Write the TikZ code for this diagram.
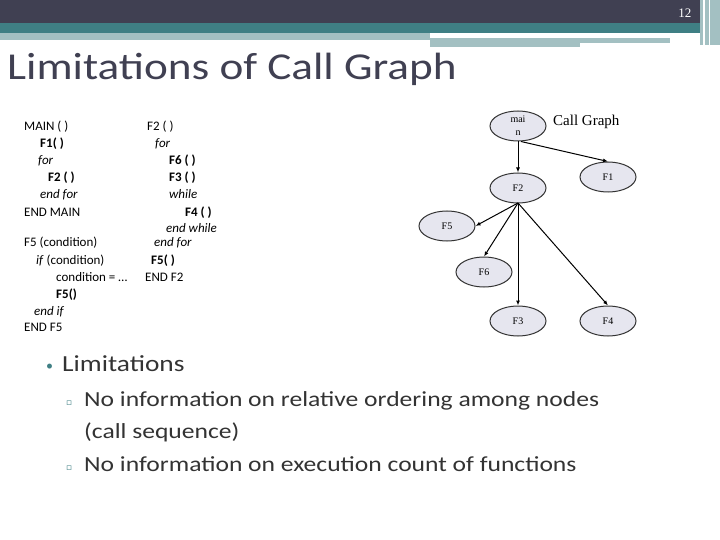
\documentclass[tikz,border=0pt]{standalone}
\usepackage{fontspec}
\setmainfont{Carlito}
\newfontfamily\wide[FakeStretch=1.19]{Carlito}
\newfontfamily\serifb{Liberation Serif}
\newfontfamily\dvs{DejaVu Sans}
\usetikzlibrary{shapes.geometric,arrows.meta}
\definecolor{hdr}{HTML}{404052}
\definecolor{teal1}{HTML}{3F7F84}
\definecolor{teal2}{HTML}{A3C0C2}
\definecolor{txt}{HTML}{333333}
\definecolor{ellf}{HTML}{E6E6EF}
\begin{document}
\begin{tikzpicture}[x=1pt,y=-1pt,
  gnode/.style={ellipse,draw=black!80,line width=1pt,fill=ellf,minimum width=56pt,minimum height=30pt,inner sep=0pt,font=\serifb\fontsize{10}{10}\selectfont},
  conn/.style={line width=1pt,-{Latex[length=5pt,width=4pt]}},
  code/.style={anchor=base west,inner sep=0pt,font=\fontsize{13}{13}\selectfont,text=black}]
\useasboundingbox (0,0) rectangle (720,540);
\fill[hdr] (0,0) rectangle (720,23);
\fill[teal1] (0,23) rectangle (700,33);
\fill[teal2] (0,33) rectangle (430,40);
\fill[teal2] (430,38) rectangle (670,43);
\fill[teal2] (430,43) rectangle (580,47);
\fill[teal2] (700,0) rectangle (720,45);
\fill[white] (703,0) rectangle (705,45);
\fill[white] (709,0) rectangle (710,45);
\node[anchor=base east,text=white,font=\serifb\fontsize{13}{13}\selectfont] (pg) at (695,18) {12};
\node[anchor=base west,inner sep=0pt,text=hdr,font=\wide\fontsize{38}{38}\selectfont] (title) at (7,80) {Limitations of Call Graph};
% code left
\node[code] (l1) at (24,131) {MAIN ( )};
\node[code] (l2) at (40,148) {\textbf{F1( )}};
\node[code] (l3) at (38,165) {\textit{for}};
\node[code] (l4) at (48,182) {\textbf{F2 ( )}};
\node[code] (l5) at (40,199) {\textit{end for}};
\node[code] (l6) at (24,216) {END MAIN};
\node[code] (l7) at (24,247) {F5 (condition)};
\node[code] (l8) at (36,264) {\textit{if} (condition)};
\node[code] (l9) at (56,281) {condition = \ldots};
\node[code] (l10) at (56,298) {\textbf{F5()}};
\node[code] (l11) at (34,315) {\textit{end if}};
\node[code] (l12) at (24,331) {END F5};
% code right
\node[code] (r1) at (147,131) {F2 ( )};
\node[code] (r2) at (155,148) {\textit{for}};
\node[code] (r3) at (169,165) {\textbf{F6 ( )}};
\node[code] (r4) at (169,182) {\textbf{F3 ( )}};
\node[code] (r5) at (169,199) {\textit{while}};
\node[code] (r6) at (185,216) {\textbf{F4 ( )}};
\node[code] (r7) at (166,233) {\textit{end while}};
\node[code] (r8) at (154,247) {\textit{end for}};
\node[code] (r9) at (151,264) {\textbf{F5( )}};
\node[code] (r10) at (145,281) {END F2};
% graph
\node[gnode,align=center,font=\serifb\fontsize{10}{13}\selectfont] (main) at (518,126) {mai\\n};
\node[gnode] (f1) at (608,177) {F1};
\node[gnode] (f2) at (518,188) {F2};
\node[gnode] (f5) at (447,226) {F5};
\node[gnode] (f6) at (484,272) {F6};
\node[gnode] (f3) at (518,321) {F3};
\node[gnode] (f4) at (608,321) {F4};
\node[anchor=west,inner sep=0pt,font=\serifb\fontsize{15}{15}\selectfont] (cg) at (553,122) {Call Graph};
\coordinate (hub) at (518,203);
\draw[conn] (main) -- (f2);
\draw[conn] (main.south) ++(3,0) coordinate (ms) -- (f1.north);
\draw[conn] (hub) -- (f5.east);
\draw[conn] (hub) -- (f6.north);
\draw[conn] (hub) -- (f3.north);
\draw[conn] (hub) -- (f4.north);
% bullets
\node[anchor=base west,inner sep=0pt,text=teal1,font=\fontsize{14}{14}\selectfont] (b0) at (46,370) {\textbullet};
\node[anchor=base west,inner sep=0pt,text=txt,font=\wide\fontsize{23}{23}\selectfont] (b1) at (62,371) {Limitations};
\node[anchor=base west,inner sep=0pt,text=teal1,font=\dvs\fontsize{9}{9}\selectfont] (s0) at (66,405) {▫};
\node[anchor=base west,inner sep=0pt,text=txt,font=\wide\fontsize{21.5}{21.5}\selectfont] (s1) at (84,406) {No information on relative ordering among nodes};
\node[anchor=base west,inner sep=0pt,text=txt,font=\wide\fontsize{21.5}{21.5}\selectfont] (s1b) at (84,438) {(call sequence)};
\node[anchor=base west,inner sep=0pt,text=teal1,font=\dvs\fontsize{9}{9}\selectfont] (s2) at (66,470) {▫};
\node[anchor=base west,inner sep=0pt,text=txt,font=\wide\fontsize{21.5}{21.5}\selectfont] (s3) at (84,471) {No information on execution count of functions};
\end{tikzpicture}
\end{document}
